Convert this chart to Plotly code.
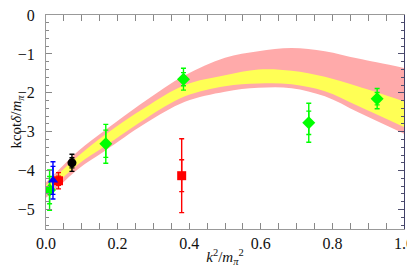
import plotly.graph_objects as go

# ---- band data (k^2/m_pi^2 vs k cot(delta)/m_pi) ----
band_x = [0.0, 0.026, 0.091, 0.165, 0.277, 0.388, 0.5, 0.593, 0.686, 0.779, 0.872, 1.0]
pink_upper = [-4.30, -4.07, -3.49, -2.96, -2.21, -1.55, -1.10, -0.93, -0.85, -0.93, -1.12, -1.36]
yellow_upper = [-4.38, -4.16, -3.62, -3.08, -2.38, -1.80, -1.55, -1.40, -1.43, -1.59, -1.84, -2.22]
yellow_lower = [-4.58, -4.36, -3.83, -3.37, -2.67, -2.09, -1.83, -1.76, -1.78, -1.96, -2.34, -2.88]
pink_lower = [-4.70, -4.49, -3.95, -3.49, -2.79, -2.23, -1.97, -1.87, -1.88, -2.09, -2.50, -3.05]

# ---- data points ----
green_x = [0.010, 0.167, 0.384, 0.734, 0.925]
green_y = [-4.50, -3.31, -1.65, -2.77, -2.15]
green_err_outer = [0.52, 0.50, 0.28, 0.50, 0.26]
green_err_inner = [0.35, 0.35, 0.17, 0.30, 0.16]

red_x = [0.035, 0.379]
red_y = [-4.26, -4.13]
red_err_outer = [0.21, 0.95]
red_err_inner = [0.12, 0.41]

blue_x = [0.0195]
blue_y = [-4.25]
blue_err_outer = [0.48]
blue_err_inner = [0.36]

black_x = [0.0725]
black_y = [-3.80]
black_err_outer = [0.22]
black_err_inner = [0.13]

x_ticks = [0.0, 0.2, 0.4, 0.6, 0.8, 1.0]
x_ticklabels = ["0.0", "0.2", "0.4", "0.6", "0.8", "1.0"]
y_ticks = [0, -1, -2, -3, -4, -5]
y_ticklabels = ["0", "\u22121", "\u22122", "\u22123", "\u22124", "\u22125"]

PINK = "#FFAAAA"
YELLOW = "#FFFF55"
FONT = "Liberation Serif"

fig = go.Figure()


def band(lower, upper, color):
    fig.add_trace(go.Scatter(x=band_x, y=lower, mode="lines",
                             line=dict(width=0, shape="spline", color=color),
                             hoverinfo="skip", showlegend=False))
    fig.add_trace(go.Scatter(x=band_x, y=upper, mode="lines", fill="tonexty",
                             fillcolor=color,
                             line=dict(width=0, shape="spline", color=color),
                             hoverinfo="skip", showlegend=False))


band(pink_lower, pink_upper, PINK)
band(yellow_lower, yellow_upper, YELLOW)


def points(xs, ys, outer, inner, color, symbol, size):
    fig.add_trace(go.Scatter(
        x=xs, y=ys, mode="markers",
        marker=dict(size=0.1, color=color, opacity=0),
        error_y=dict(type="data", array=outer, visible=True, color=color,
                     thickness=1.4, width=2.5),
        showlegend=False))
    fig.add_trace(go.Scatter(
        x=xs, y=ys, mode="markers",
        marker=dict(size=size, color=color, symbol=symbol),
        error_y=dict(type="data", array=inner, visible=True, color=color,
                     thickness=1.4, width=2.5),
        showlegend=False))


points(green_x, green_y, green_err_outer, green_err_inner, "#00FF00", "diamond", 10)
points(red_x, red_y, red_err_outer, red_err_inner, "#FF0000", "square", 9)
points(blue_x, blue_y, blue_err_outer, blue_err_inner, "#0000FF", "triangle-up", 9)
points(black_x, black_y, black_err_outer, black_err_inner, "#000000", "circle", 9)

# invisible trace on right axis to create right frame
fig.add_trace(go.Scatter(x=[0.5], y=[-3], yaxis="y2", mode="markers",
                         marker=dict(opacity=0), showlegend=False, hoverinfo="skip"))

# page body adds an 8px offset; size the figure to the remaining window area
fig.update_layout(
    width=407, height=268,
    margin=dict(l=38, r=11, t=7, b=47, autoexpand=False),
    paper_bgcolor="white", plot_bgcolor="white",
    font=dict(family=FONT, size=16, color="#111111"),
    xaxis=dict(
        range=[0, 1], tickvals=x_ticks, ticktext=x_ticklabels,
        ticks="inside", ticklen=6, tickwidth=1, tickcolor="#888888",
        minor=dict(dtick=0.05, tick0=0, ticks="inside", ticklen=3, tickcolor="#888888"),
        showline=True, linecolor="#999999", linewidth=1, mirror="allticks",
        showgrid=False, zeroline=False, ticklabeloverflow="allow",
        automargin=False,
        title=dict(text="<i>k</i><sup>2</sup>/<i>m</i><sub><i>\u03c0</i></sub><sup>2</sup>",
                   font=dict(family=FONT, size=15), standoff=0),
    ),
    yaxis=dict(
        range=[-5.5, 0], tickvals=y_ticks, ticktext=y_ticklabels,
        ticks="inside", ticklen=6, tickwidth=1, tickcolor="#888888",
        minor=dict(dtick=0.2, tick0=0, ticks="inside", ticklen=3, tickcolor="#888888"),
        showline=True, linecolor="#999999", linewidth=1, mirror=False,
        showgrid=False, zeroline=False, ticklabelstandoff=7,
        ticklabeloverflow="allow",
        automargin=False,
        title=dict(text="kcot<i>\u03b4</i>/<i>m</i><sub><i>\u03c0</i></sub>",
                   font=dict(family=FONT, size=15), standoff=0),
    ),
    yaxis2=dict(
        range=[-5.5, 0], overlaying="y", side="right",
        tickvals=y_ticks, showticklabels=False,
        ticks="inside", ticklen=6, tickwidth=1, tickcolor="#505070",
        minor=dict(dtick=0.2, tick0=0, ticks="inside", ticklen=3, tickcolor="#505070"),
        showline=True, linecolor="#404068", linewidth=1,
        showgrid=False, zeroline=False, automargin=False,
    ),
)

fig.write_html("out.html")
